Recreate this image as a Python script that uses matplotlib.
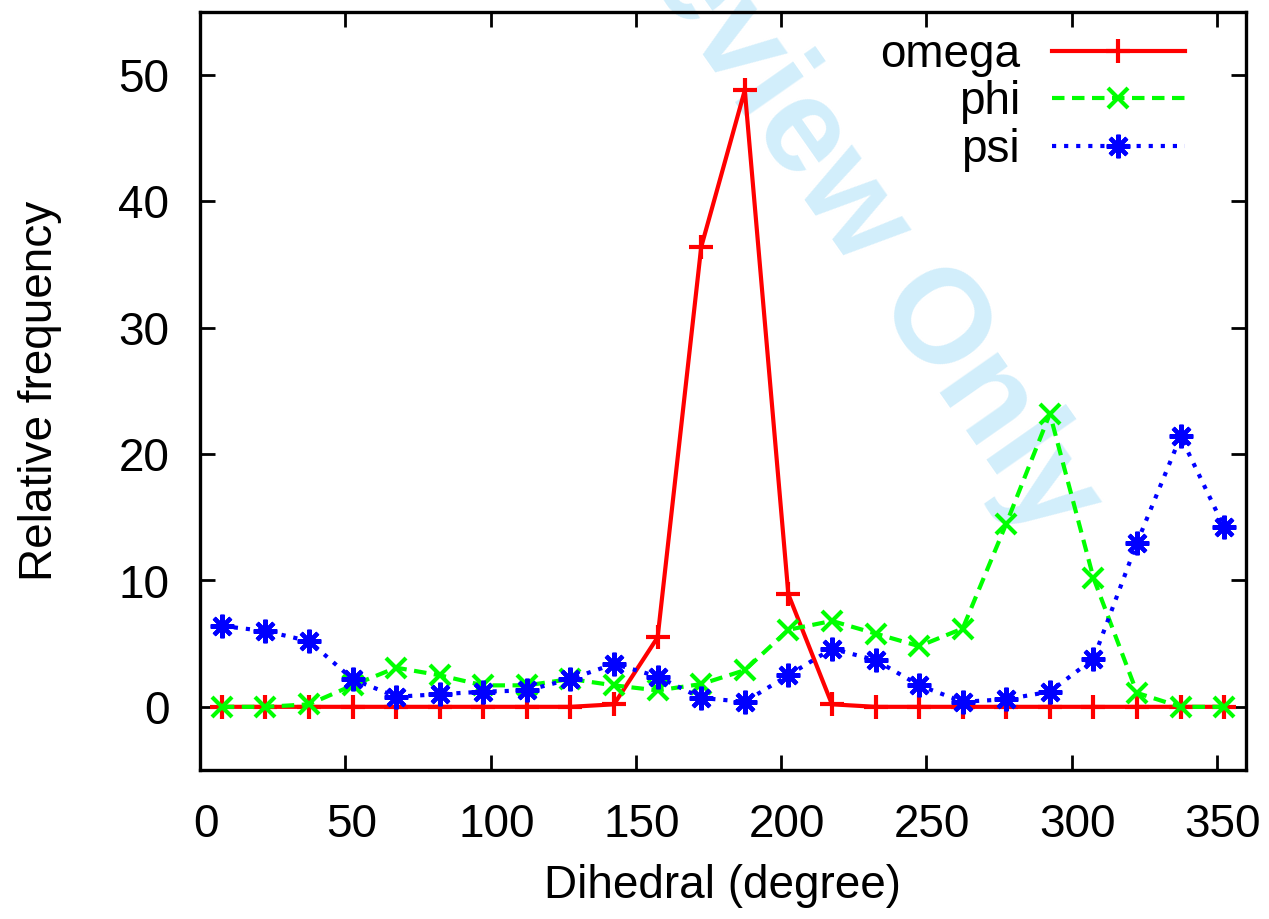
import matplotlib
matplotlib.use("Agg")
import matplotlib.pyplot as plt
import matplotlib.transforms as mtransforms
import numpy as np

plt.rcParams['font.family'] = ['Liberation Sans', 'DejaVu Sans']

x = [7.5 + 15 * i for i in range(24)]
omega = [0, 0, 0, 0, 0, 0, 0, 0, 0, 0.2, 5.5, 36.4, 48.8, 8.9, 0.2, 0, 0, 0, 0, 0, 0, 0, 0, 0]
phi = [0, 0, 0.2, 1.7, 3.1, 2.5, 1.7, 1.7, 2.2, 1.7, 1.3, 1.8, 2.9, 6.1, 6.8, 5.8, 4.8, 6.2,
       14.5, 23.2, 10.2, 1.1, 0, 0]
psi = [6.4, 6.0, 5.2, 2.2, 0.8, 1.0, 1.2, 1.3, 2.2, 3.4, 2.4, 0.7, 0.4, 2.5, 4.6, 3.7, 1.7,
       0.4, 0.6, 1.2, 3.8, 13.0, 21.4, 14.2]
labels = ['omega', 'phi', 'psi']
xticks = [0, 50, 100, 150, 200, 250, 300, 350]
yticks = [0, 10, 20, 30, 40, 50]

W, H = 1269, 919
fig = plt.figure(figsize=(W / 100, H / 100), dpi=100)
ax = fig.add_axes([200 / W, 1 - 770 / H, 1046 / W, 758 / H])

fs = 33
lw = 3.0
ax.plot(x, omega, color='#ff0000', lw=lw, ls='-', marker='+', ms=17, mew=3.0, label=labels[0])
ax.plot(x, phi, color='#00ff00', lw=lw, ls=(0, (3.0, 1.8)), marker='x', ms=14, mew=3.0,
        label=labels[1])
ax.plot(x, psi, color='#0000ff', lw=lw, ls=(0, (1.0, 1.9)), marker=(8, 2, 0), ms=17, mew=3.0,
        label=labels[2])

ax.set_xlim(0, 360)
ax.set_ylim(-5, 55)
ax.set_xticks(xticks)
ax.set_yticks(yticks)
ax.tick_params(direction='in', length=11, width=2.0, top=True, right=True,
               labelsize=fs)
ax.tick_params(axis='x', pad=24)
ax.tick_params(axis='y', pad=22)
for s in ax.spines.values():
    s.set_linewidth(2.4)

shift = mtransforms.ScaledTranslation(6 / 100, 0, fig.dpi_scale_trans)
for lab in ax.get_xticklabels():
    lab.set_transform(lab.get_transform() + shift)

ax.set_xlabel('Dihedral (degree)', fontsize=fs, labelpad=12)
ax.set_ylabel('Relative frequency', fontsize=fs, labelpad=41)

leg = ax.legend(loc='upper right', frameon=False, fontsize=fs, markerfirst=False,
                numpoints=1, handlelength=2.9, handletextpad=0.7, labelspacing=0.07,
                bbox_to_anchor=(1 - 52 / 1046, 1 - 12 / 758), borderaxespad=0.0,
                borderpad=0.2)
for t in leg.get_texts():
    t.set_ha('right')

fig.text(832 / W, 1 - 180 / H, 'Preview Only', fontsize=96, fontweight='bold',
         color='#d2eefb', rotation=-55, ha='center', va='center',
         rotation_mode='anchor', zorder=0)
ax.set_zorder(1)
ax.patch.set_alpha(0)

fig.savefig('out.png', dpi=100)
